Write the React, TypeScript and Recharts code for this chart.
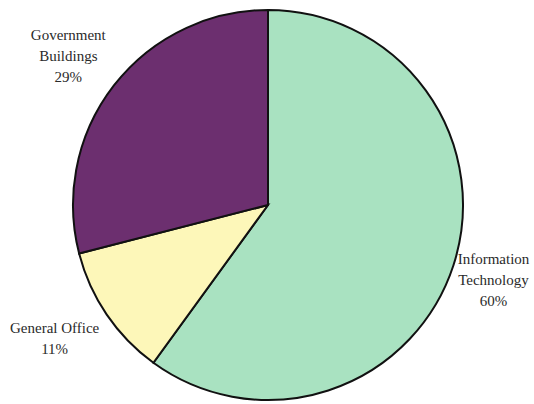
import { Cell, Pie, PieChart } from 'recharts';

const sectors = ['Information Technology', 'General Office', 'Government Buildings'];
const shares = [60, 11, 29];
const sectorColors = ['#a9e2c1', '#fdf7b9', '#6c2f6f'];

const pieData = sectors.map((name, i) => ({ name, value: shares[i] }));

// small nudges so each label sits where the original put it
const labelNudge: Record<string, [number, number]> = {
  'Information Technology': [2, 2],
  'General Office': [-19, 1],
  'Government Buildings': [-14, -5],
};

const RADIAN = Math.PI / 180;
const labelFont = "'Liberation Serif', 'Times New Roman', serif";

type LabelProps = {
  cx: number;
  cy: number;
  midAngle: number;
  outerRadius: number;
  name: string;
  value: number;
};

function SliceLabel({ cx, cy, midAngle, outerRadius, name, value }: LabelProps) {
  const r = outerRadius + 40;
  const [nx, ny] = labelNudge[name] ?? [0, 0];
  const x = cx + r * Math.cos(-midAngle * RADIAN) + nx;
  const y = cy + r * Math.sin(-midAngle * RADIAN) + ny;
  // "General Office" stays on one line in the original
  const lines = name === 'General Office' ? [name, `${value}%`] : [...name.split(' '), `${value}%`];
  const lineHeight = 21;
  const top = y - ((lines.length - 1) * lineHeight) / 2;

  return (
    <text
      x={x}
      y={top}
      textAnchor="middle"
      dominantBaseline="central"
      fill="#2a2a2a"
      style={{ fontFamily: labelFont, fontSize: 15 }}
    >
      {lines.map((line, i) => (
        <tspan key={line} x={x} dy={i === 0 ? 0 : lineHeight}>
          {line}
        </tspan>
      ))}
    </text>
  );
}

export default function App() {
  return (
    <div
      style={{ position: 'absolute', left: 0, top: 0, width: 534, height: 404, background: '#fff', fontFamily: labelFont }}
    >
      <PieChart width={534} height={404}>
        <Pie
          data={pieData}
          dataKey="value"
          nameKey="name"
          cx={263}
          cy={200}
          outerRadius={195}
          startAngle={90}
          endAngle={-270}
          stroke="#111"
          strokeWidth={2}
          label={SliceLabel}
          labelLine={false}
          isAnimationActive={false}
        >
          {pieData.map((entry, i) => (
            <Cell key={entry.name} fill={sectorColors[i]} />
          ))}
        </Pie>
      </PieChart>
    </div>
  );
}
